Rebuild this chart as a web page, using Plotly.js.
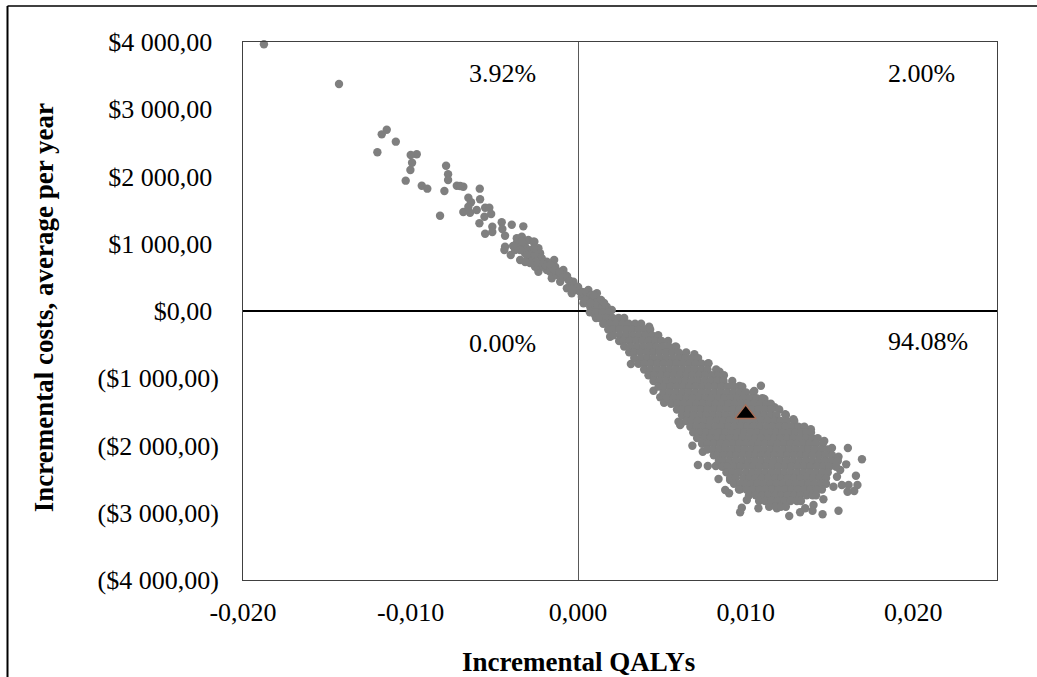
<!DOCTYPE html>
<html><head><meta charset="utf-8">
<script src="https://cdn.plot.ly/plotly-3.0.1.min.js"></script>
<style>html,body{margin:0;padding:0;background:#fff}#c{width:1037px;height:677px}</style>
</head><body><div id="c"></div>
<script>
// Scatter values. QALY values are in thousandths, costs in dollars.
const sparseQaly = [-18.75,-14.27,-11.42,-11.72,-10.88,-11.98,-9.63,-9.99,-9.91,-10.01,-10.29,-9.33,-9.0,-7.88,-7.76,-7.76,-7.24,-6.85,-7.04,-7.98,-5.87,-8.24,-6.55,-6.39,-5.85,-6.85,-6.45,-6.55,-6.05,-5.55,-5.3,-5.19,-5.59,-5.89,-5.12,-5.12,-5.55,-4.56,-3.96,-3.27,-4.52,-4.36,-3.66,-3.36,-2.97,-2.67,-4.36,-4.4,-4.02,-3.46,-3.66,-3.16,-2.76,-2.67,-2.37,-3.16,-3.66,-2.87,
 -2.61,-3.27,-2.87,-2.37,-3.06,-2.76,-2.27,-2.37,-2.07,-1.87,-1.43,-1.37,-1.57,-0.88,-0.78,-1.27,-0.58,-1.07,-0.28,-0.67,-0.08,-0.38,0.22,0.61,1.12,0.32,1.21,0.72,1.71,2.01,1.01,-1.67,-1.87,-1.18,-1.07,-0.48,0.12,0.52,0.91,1.31,-0.2,-3.36,-3.46,-2.57,-2.57,-2.17];
const sparseCost = [3966,3375,2696,2627,2518,2360,2330,2320,2205,2097,1938,1863,1819,2160,2033,1948,1863,1848,1859,1784,1819,1417,1685,1616,1661,1472,1462,1551,1502,1536,1536,1442,1402,1304,1254,1175,1149,1319,1283,1259,1219,1120,1081,1105,1056,1030,956,907,833,758,956,956,907,758,659,858,1007,807,
 1030,956,907,932,833,733,858,584,659,733,758,659,486,610,535,535,461,436,436,338,312,263,213,312,263,114,164,64,64,15,-59,584,610,584,510,361,287,189,138,64,342,1030,907,833,659,783];

const bandQaly = [-1.97,-1.67,-1.43,-1.13,-0.9,-0.66,-0.48,-0.24,0,-0.36,0.24,0.48,0.72,0.9,0.42,1.01,1.37,1.55,1.31,1.01,0.72,1.73,-2.63,-2.27,-2.51,-2.87,-3.16,-3.76,-3.88];
const bandCost = [684,684,610,580,505,520,446,387,357,327,283,283,223,238,164,119,164,119,15,15,119,-15,937,729,729,714,729,907,966];

const edgeQaly = [3.50,4.24,5.79,6.35,6.94,7.78,8.44,8.66,3.15,1.91,4.5,4.9,5.13,5.99,6.09,10.91,10.51,9.63,11.12,11.72,12.36,12.85,13.3,13.89,14.69,15.15,16.1,16.94,15.54,15.15,16.0,16.58,16.67,16.48,16.08,16.14,15.74,15.45,15.64,15.24,14.64,15.54,14.59,14.05,13.99,13.25,13.55,12.6,11.86,10.76,9.77,9.67,10.07,9.01,8.78,9.67,8.38,7.15,7.74,8.22,6.82,7.44,6.15,9.07];
const edgeCost = [-219,-233,-531,-654,-644,-778,-903,-967,-788,-382,-1185,-1283,-1364,-1646,-1695,-1111,-1190,-1115,-1309,-1432,-1536,-1610,-1735,-1759,-1933,-2037,-2037,-2205,-2167,-2216,-2280,-2449,-2587,-2677,-2687,-2587,-2587,-2464,-2364,-2613,-2800,-2970,-3023,-2885,-2970,-2993,-2934,-3048,-2934,-2934,-2925,-2993,-2810,-2711,-2662,-2651,-2498,-2290,-2305,-2305,-2003,-2092,-1670,-2513];

const denseCost = [-20,-105,-190,-275,-360,-445,-530,-615,-700,-785,-870,-955,-1040,-1125,-1210,-1295,-1380,-1465,-1550,-1635,-1720,-1805,-1890,-1975,-2060,-2145,-2230,-2315,-2400,-2485,-2570,-2655,-2740,-2825,-2910];
const denseQaly = [
 [.7,1.05,1.45,1.85],
 [1.07,1.3,1.68,2.06,2.42,2.75],
 [1.5,1.9,2.26,2.65,3.02,3.4,3.76],
 [1.8,2.08,2.46,2.85,3.22,3.6,3.97,4.3],
 [2.1,2.5,2.88,3.26,3.63,4.02,4.4,4.78],
 [2.45,2.7,3.08,3.47,3.84,4.22,4.6,4.98,5.37],
 [2.75,3.14,3.52,3.9,4.28,4.66,5.04,5.42,5.85],
 [3.05,3.34,3.72,4.1,4.48,4.86,5.24,5.62,6.0,6.45],
 [3.35,3.75,4.13,4.5,4.89,5.27,5.65,6.03,6.41,6.79,7.16],
 [3.6,3.96,4.34,4.72,5.1,5.48,5.86,6.24,6.62,7.0,7.38,7.76],
 [3.94,4.3,4.68,5.06,5.44,5.82,6.2,6.58,6.96,7.34,7.72,8.24],
 [4.2,4.56,4.94,5.32,5.7,6.08,6.46,6.84,7.22,7.6,7.98,8.36,8.7],
 [4.5,4.88,5.26,5.64,6.02,6.4,6.78,7.16,7.54,7.92,8.3,8.68,9.2],
 [4.8,5.12,5.5,5.88,6.26,6.64,7.02,7.4,7.78,8.16,8.54,8.92,9.3,9.8],
 [5.1,5.46,5.84,6.22,6.6,6.98,7.36,7.74,8.12,8.5,8.88,9.26,9.64,10.02,10.45],
 [5.3,5.7,6.08,6.46,6.84,7.22,7.6,7.98,8.36,8.74,9.12,9.5,9.88,10.26,10.64,11.0],
 [5.55,5.92,6.3,6.68,7.06,7.44,7.82,8.2,8.58,8.96,9.34,9.72,10.1,10.48,10.86,11.24,11.5],
 [5.9,6.2,6.58,6.96,7.34,7.72,8.1,8.48,8.86,9.24,9.62,10.0,10.38,10.76,11.14,11.52,12.0],
 [6.2,6.52,6.9,7.28,7.66,8.04,8.42,8.8,9.18,9.56,9.94,10.32,10.7,11.08,11.46,11.84,12.4],
 [6.45,6.76,7.14,7.52,7.9,8.28,8.66,9.04,9.42,9.8,10.18,10.56,10.94,11.32,11.7,12.08,12.46,12.9],
 [6.7,7.06,7.44,7.82,8.2,8.58,8.96,9.34,9.72,10.1,10.48,10.86,11.24,11.62,12.0,12.38,12.76,13.14,13.5],
 [6.87,7.26,7.64,8.02,8.4,8.78,9.16,9.54,9.92,10.3,10.68,11.06,11.44,11.82,12.2,12.58,12.96,13.34,13.62,13.9],
 [7.1,7.52,7.9,8.28,8.66,9.04,9.42,9.8,10.18,10.56,10.94,11.32,11.7,12.08,12.46,12.84,13.22,13.6,13.98,14.3],
 [7.4,7.72,8.1,8.48,8.86,9.24,9.62,10.0,10.38,10.76,11.14,11.52,11.9,12.28,12.66,13.04,13.42,13.8,14.18,14.6],
 [7.7,8.04,8.42,8.8,9.18,9.56,9.94,10.32,10.7,11.08,11.46,11.84,12.22,12.6,12.98,13.36,13.74,14.12,14.5,14.9],
 [8.1,8.3,8.68,9.06,9.44,9.82,10.2,10.58,10.96,11.34,11.72,12.1,12.48,12.86,13.24,13.62,14.0,14.38,14.76,15.15],
 [8.4,8.64,9.02,9.4,9.78,10.16,10.54,10.92,11.3,11.68,12.06,12.44,12.82,13.2,13.58,13.96,14.34,14.72,15.1,15.5],
 [8.6,8.92,9.3,9.68,10.06,10.44,10.82,11.2,11.58,11.96,12.34,12.72,13.1,13.48,13.86,14.24,14.62,15.0,15.4],
 [8.85,9.2,9.6,10.02,10.4,10.78,11.16,11.54,11.92,12.3,12.68,13.06,13.44,13.82,14.2,14.58,14.9],
 [9.07,9.4,9.85,10.22,10.6,10.98,11.36,11.74,12.12,12.5,12.88,13.26,13.64,14.02,14.4,14.8],
 [9.3,9.68,10.0,10.32,10.7,11.08,11.46,11.84,12.22,12.6,12.98,13.36,13.74,14.12,14.5,14.8],
 [9.6,10.05,10.44,10.82,11.2,11.58,11.96,12.34,12.72,13.1,13.48,13.86,14.24,14.55],
 [10.2,10.6,10.98,11.36,11.74,12.12,12.5,12.88,13.26,13.64,14.0,14.2],
 [10.8,11.16,11.54,11.92,12.3,12.68,13.06,13.3],
 [11.4,11.8,12.1,12.4]
];
const meanQaly = [10.0];
const meanCost = [-1530];

const xTickVals = [-0.02,-0.01,0,0.01,0.02];
const xTickText = ['-0,020','-0,010','0,000','0,010','0,020'];
const yTickVals = [4000,3000,2000,1000,0,-1000,-2000,-3000,-4000];
const yTickText = ['$4 000,00\u00a0','$3 000,00\u00a0','$2 000,00\u00a0','$1 000,00\u00a0','$0,00\u00a0','($1 000,00)','($2 000,00)','($3 000,00)','($4 000,00)'];
const quadrantLabels = ['3.92%','2.00%','0.00%','94.08%'];

const allX = [], allY = [];
sparseQaly.forEach((q,i)=>{allX.push(q/1000);allY.push(sparseCost[i]);});
bandQaly.forEach((q,i)=>{allX.push(q/1000);allY.push(bandCost[i]);});
edgeQaly.forEach((q,i)=>{allX.push(q/1000);allY.push(edgeCost[i]);});
denseQaly.forEach((row,r)=>row.forEach(q=>{allX.push(q/1000);allY.push(denseCost[r]);}));

const serif = '"Liberation Serif","Times New Roman",serif';
const txt = {family:serif,size:26,color:'#000'};
const ttl = {family:serif,size:27,color:'#000'};
const data = [
 {type:'scatter',mode:'markers',x:allX,y:allY,cliponaxis:false,
  marker:{color:'#7f7f7f',size:8.4,line:{width:0}},showlegend:false},
 {type:'scatter',mode:'markers',x:meanQaly.map(q=>q/1000),y:meanCost,cliponaxis:false,
  marker:{symbol:'triangle-up',color:'#000000',size:18,line:{color:'#a8705a',width:1.5}},showlegend:false}
];
const layout = {
 width:1037,height:677,margin:{l:243,r:40,t:42,b:97},
 paper_bgcolor:'#fff',plot_bgcolor:'#fff',showlegend:false,
 font:txt,
 xaxis:{range:[-0.02,0.025],tickvals:xTickVals,ticktext:xTickText,ticks:'',showgrid:false,
  showline:true,mirror:true,linecolor:'#404040',linewidth:1,
  zeroline:true,zerolinecolor:'#595959',zerolinewidth:1,ticklabelstandoff:9,
  tickfont:txt},
 yaxis:{range:[-4000,4000],tickvals:yTickVals,ticktext:yTickText,ticks:'',showgrid:false,
  showline:true,mirror:true,linecolor:'#404040',linewidth:1,
  zeroline:true,zerolinecolor:'#000',zerolinewidth:2,ticklabelstandoff:18,
  tickfont:txt,
  title:{text:'<b>\u00a0Incremental costs, average per year</b>',standoff:36,font:ttl}},
 annotations:[
  {xref:'x',yref:'y',x:-0.0045,y:3530,text:quadrantLabels[0],showarrow:false,font:txt},
  {xref:'x',yref:'y',x:0.0205,y:3530,text:quadrantLabels[1],showarrow:false,font:txt},
  {xref:'x',yref:'y',x:-0.0045,y:-480,text:quadrantLabels[2],showarrow:false,font:txt},
  {xref:'x',yref:'y',x:0.0209,y:-450,text:quadrantLabels[3],showarrow:false,font:txt},
  {xref:'paper',yref:'paper',x:(578-243)/754,y:-(662-580)/538,yanchor:'middle',text:'<b>Incremental QALYs</b>',showarrow:false,font:ttl}
 ],
 shapes:[
  {type:'line',xref:'paper',yref:'paper',x0:-(243-7.5)/754,x1:(1037-243)/754,y0:(580-6)/538,y1:(580-6)/538,line:{color:'#000',width:1.5}},
  {type:'line',xref:'paper',yref:'paper',x0:-(243-7.5)/754,x1:-(243-7.5)/754,y0:(580-6)/538,y1:-97/538,line:{color:'#000',width:2}}
 ]
};
Plotly.newPlot('c',data,layout,{staticPlot:true,displayModeBar:false});
</script></body></html>
